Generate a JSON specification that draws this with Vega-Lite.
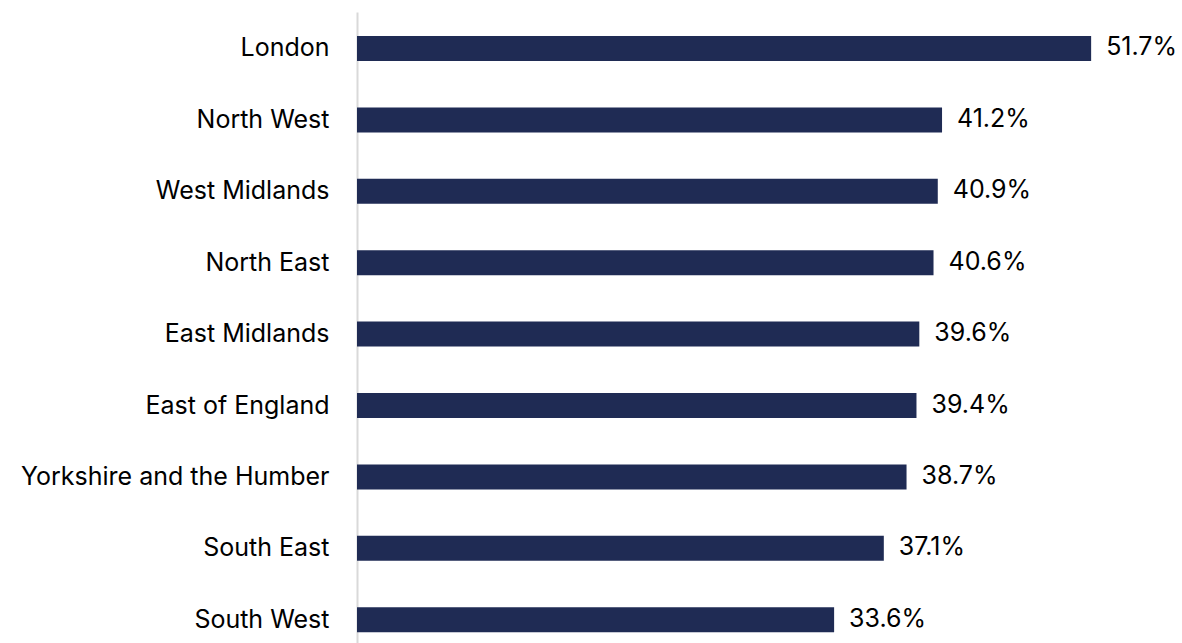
{
  "$schema": "https://vega.github.io/schema/vega-lite/v6.json",
  "autosize": {"type": "none"},
  "padding": {"left": 357, "top": 12, "right": 44, "bottom": 0},
  "width": 781,
  "height": 631,
  "background": "white",
  "config": {
    "view": {"stroke": null},
    "font": "Inter"
  },
  "data": {
    "values": [
      {"region": "London", "share": 0.517},
      {"region": "North West", "share": 0.412},
      {"region": "West Midlands", "share": 0.409},
      {"region": "North East", "share": 0.406},
      {"region": "East Midlands", "share": 0.396},
      {"region": "East of England", "share": 0.394},
      {"region": "Yorkshire and the Humber", "share": 0.387},
      {"region": "South East", "share": 0.371},
      {"region": "South West", "share": 0.336}
    ]
  },
  "encoding": {
    "y": {
      "field": "region",
      "type": "nominal",
      "sort": null,
      "scale": {"paddingInner": 0.65, "paddingOuter": 0.2435, "align": 0.69},
      "axis": {
        "title": null,
        "ticks": false,
        "labelPadding": 28,
        "labelFontSize": 25,
        "labelLimit": 0,
        "labelColor": "#000000",
        "labelFont": "Inter",
        "domainColor": "#d9d9d9",
        "domainWidth": 2
      }
    },
    "x": {
      "field": "share",
      "type": "quantitative",
      "scale": {"domain": [0, 0.55]},
      "axis": null
    }
  },
  "layer": [
    {"mark": {"type": "bar", "color": "#1f2b54"}},
    {
      "mark": {"type": "text", "align": "left", "baseline": "middle", "dx": 15, "dy": -1, "fontSize": 25, "color": "#000000", "font": "Inter"},
      "encoding": {"text": {"field": "share", "type": "quantitative", "format": ".1%"}}
    }
  ]
}
